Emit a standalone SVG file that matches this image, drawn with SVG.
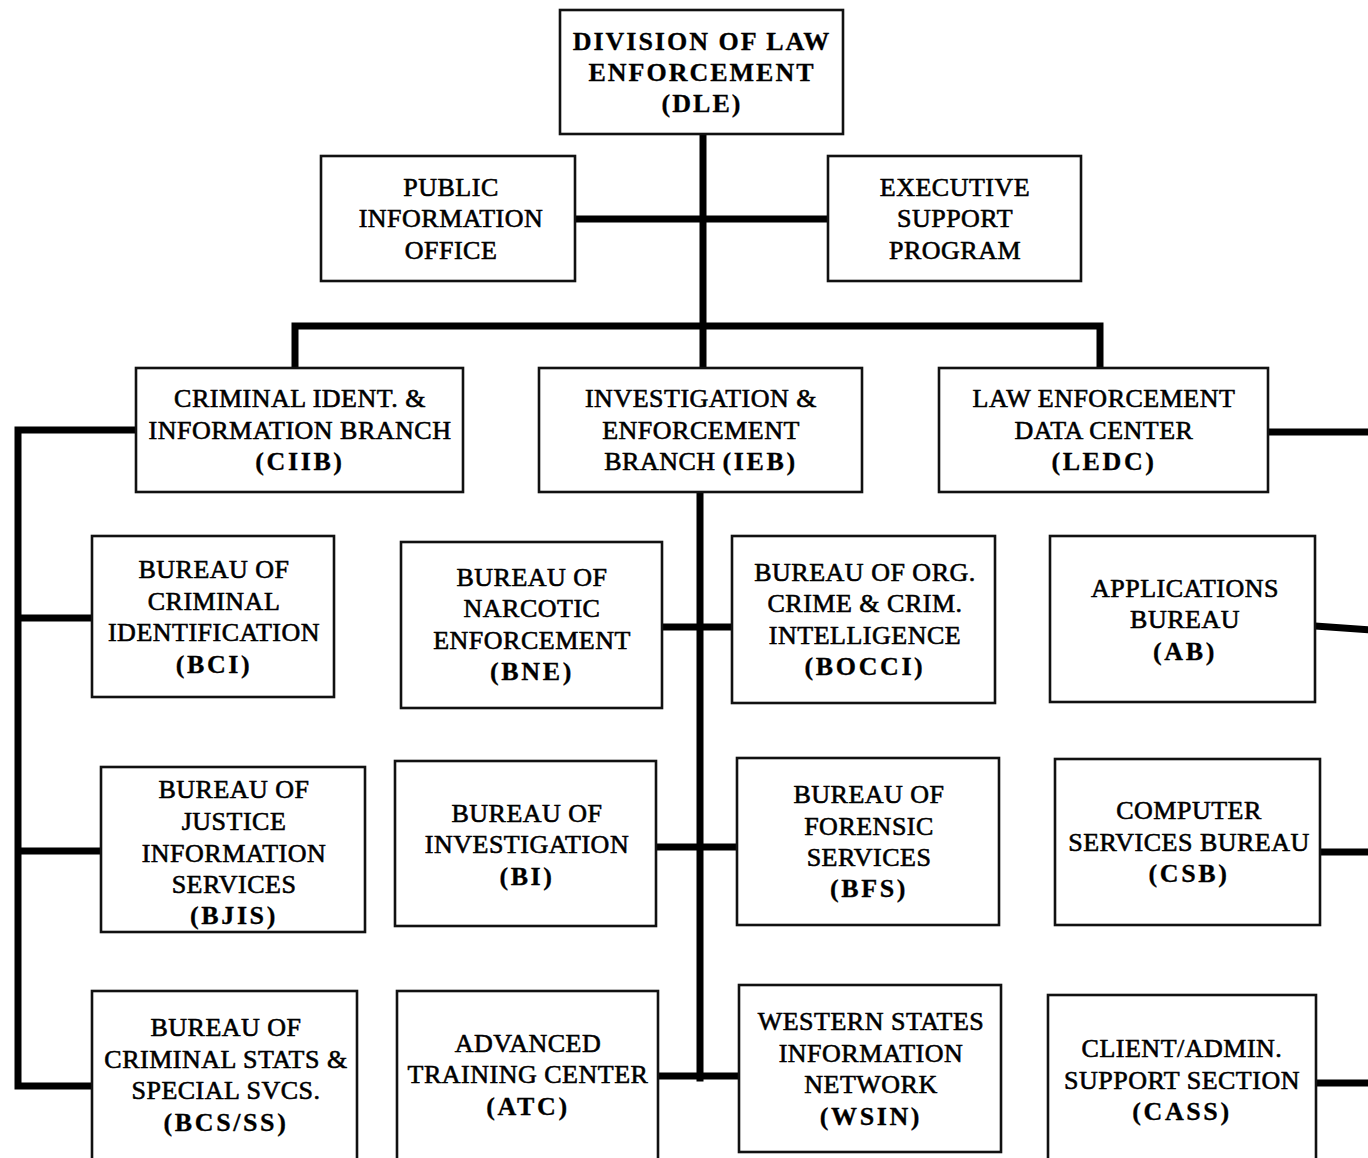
<svg xmlns="http://www.w3.org/2000/svg" width="1368" height="1158" viewBox="0 0 1368 1158">
<style>
.box{fill:#fff;stroke:#111;stroke-width:2.6}
.c{fill:none;stroke:#000;stroke-width:7;stroke-linecap:square}
text{font-family:"Liberation Serif","Times New Roman",serif;font-size:26px;fill:#000;text-anchor:middle;stroke:#000;stroke-width:0.6;letter-spacing:0.5px}
.b{font-weight:bold;letter-spacing:2.6px;stroke-width:0.3}
.t{font-weight:bold;letter-spacing:2px;stroke-width:0.3}
</style>
<rect width="1368" height="1158" fill="#fff"/>
<g id="connectors">
<path class="c" d="M703 134V368M578 219H825M295 368V326H1100V368"/>
<path class="c" d="M136 430H18V1086H92M18 618H92M18 851H101"/>
<path class="c" d="M700 492V1078M662 627H732M656 847H737M658 1076H739"/>
<path class="c" d="M1268 432H1372M1315 626L1372 630M1320 852H1372M1316 1083H1372"/>
</g>
<g id="dle"><rect class="box" x="560" y="10" width="283" height="124"/>
<text class="t" x="702" y="50">DIVISION OF LAW</text><text class="t" x="702" y="81">ENFORCEMENT</text><text class="t" x="702" y="112">(DLE)</text></g>
<g id="pio"><rect class="box" x="321" y="156" width="254" height="125"/>
<text x="451" y="196">PUBLIC</text><text x="451" y="227">INFORMATION</text><text x="451" y="259">OFFICE</text></g>
<g id="esp"><rect class="box" x="828" y="156" width="253" height="125"/>
<text x="955" y="196">EXECUTIVE</text><text x="955" y="227">SUPPORT</text><text x="955" y="259">PROGRAM</text></g>
<g id="ciib"><rect class="box" x="136" y="368" width="327" height="124"/>
<text x="300" y="407">CRIMINAL IDENT. &amp;</text><text x="300" y="439">INFORMATION BRANCH</text><text class="b" x="300" y="470">(CIIB)</text></g>
<g id="ieb"><rect class="box" x="539" y="368" width="323" height="124"/>
<text x="701" y="407">INVESTIGATION &amp;</text><text x="701" y="439">ENFORCEMENT</text><text x="701" y="470">BRANCH <tspan class="b">(IEB)</tspan></text></g>
<g id="ledc"><rect class="box" x="939" y="368" width="329" height="124"/>
<text x="1104" y="407">LAW ENFORCEMENT</text><text x="1104" y="439">DATA CENTER</text><text class="b" x="1104" y="470">(LEDC)</text></g>
<g id="bci"><rect class="box" x="92" y="536" width="242" height="161"/>
<text x="214" y="578">BUREAU OF</text><text x="214" y="610">CRIMINAL</text><text x="214" y="641">IDENTIFICATION</text><text class="b" x="214" y="673">(BCI)</text></g>
<g id="bne"><rect class="box" x="401" y="542" width="261" height="166"/>
<text x="532" y="586">BUREAU OF</text><text x="532" y="617">NARCOTIC</text><text x="532" y="649">ENFORCEMENT</text><text class="b" x="532" y="680">(BNE)</text></g>
<g id="bocci"><rect class="box" x="732" y="536" width="263" height="167"/>
<text x="865" y="581">BUREAU OF ORG.</text><text x="865" y="612">CRIME &amp; CRIM.</text><text x="865" y="644">INTELLIGENCE</text><text class="b" x="865" y="675">(BOCCI)</text></g>
<g id="ab"><rect class="box" x="1050" y="536" width="265" height="166"/>
<text x="1185" y="597">APPLICATIONS</text><text x="1185" y="628">BUREAU</text><text class="b" x="1185" y="660">(AB)</text></g>
<g id="bjis"><rect class="box" x="101" y="767" width="264" height="165"/>
<text x="234" y="798">BUREAU OF</text><text x="234" y="830">JUSTICE</text><text x="234" y="862">INFORMATION</text><text x="234" y="893">SERVICES</text><text class="b" x="234" y="924">(BJIS)</text></g>
<g id="bi"><rect class="box" x="395" y="761" width="261" height="165"/>
<text x="527" y="822">BUREAU OF</text><text x="527" y="853">INVESTIGATION</text><text class="b" x="527" y="885">(BI)</text></g>
<g id="bfs"><rect class="box" x="737" y="758" width="262" height="167"/>
<text x="869" y="803">BUREAU OF</text><text x="869" y="835">FORENSIC</text><text x="869" y="866">SERVICES</text><text class="b" x="869" y="897">(BFS)</text></g>
<g id="csb"><rect class="box" x="1055" y="759" width="265" height="166"/>
<text x="1189" y="819">COMPUTER</text><text x="1189" y="851">SERVICES BUREAU</text><text class="b" x="1189" y="882">(CSB)</text></g>
<g id="bcsss"><rect class="box" x="92" y="991" width="265" height="175"/>
<text x="226" y="1036">BUREAU OF</text><text x="226" y="1068">CRIMINAL STATS &amp;</text><text x="226" y="1099">SPECIAL SVCS.</text><text class="b" x="226" y="1131">(BCS/SS)</text></g>
<g id="atc"><rect class="box" x="397" y="991" width="261" height="175"/>
<text x="528" y="1052">ADVANCED</text><text x="528" y="1083">TRAINING CENTER</text><text class="b" x="528" y="1115">(ATC)</text></g>
<g id="wsin"><rect class="box" x="739" y="985" width="262" height="167"/>
<text x="871" y="1030">WESTERN STATES</text><text x="871" y="1062">INFORMATION</text><text x="871" y="1093">NETWORK</text><text class="b" x="871" y="1125">(WSIN)</text></g>
<g id="cass"><rect class="box" x="1048" y="995" width="268" height="171"/>
<text x="1182" y="1057">CLIENT/ADMIN.</text><text x="1182" y="1089">SUPPORT SECTION</text><text class="b" x="1182" y="1120">(CASS)</text></g>
</svg>
